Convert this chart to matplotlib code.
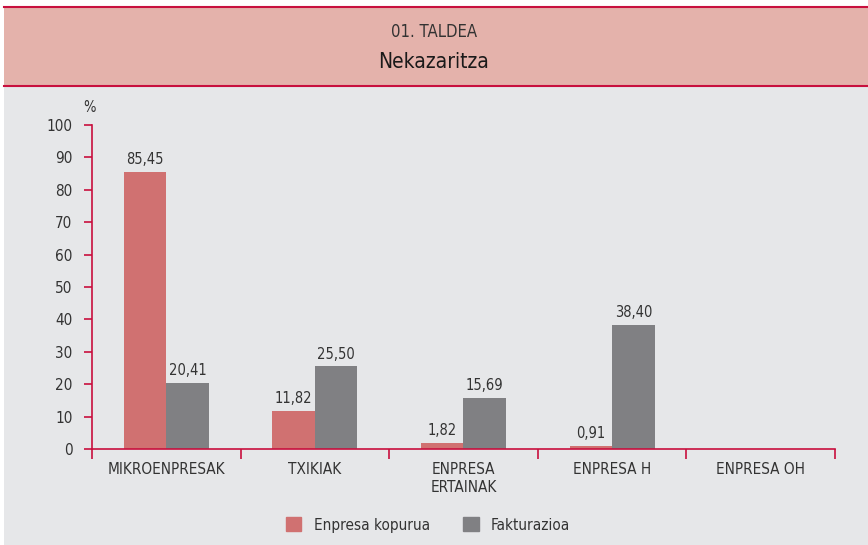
import matplotlib
matplotlib.use('Agg')
import matplotlib.pyplot as plt
from matplotlib.patches import Rectangle
from matplotlib.lines import Line2D
import numpy as np

plt.rcParams['font.family'] = ['DejaVu Sans']
plt.rcParams['font.stretch'] = 'condensed'

kategoriak = ['MIKROENPRESAK', 'TXIKIAK', 'ENPRESA\nERTAINAK', 'ENPRESA H', 'ENPRESA OH']
enpresa_kopurua = [85.45, 11.82, 1.82, 0.91, None]
fakturazioa = [20.41, 25.50, 15.69, 38.40, None]
y_ticks = [0, 10, 20, 30, 40, 50, 60, 70, 80, 90, 100]

gorria = '#d07171'
grisa = '#808083'
lerroa = '#c8103e'
testua = '#333333'

fig = plt.figure(figsize=(8.68, 5.45), dpi=100)
fig.patch.set_facecolor('white')

# atzeko planoa eta goiburua
fig.patches.append(Rectangle((4/868, 0), 1, 1 - 86/545, transform=fig.transFigure,
                             facecolor='#e6e7e9', edgecolor='none', zorder=-2))
fig.patches.append(Rectangle((4/868, 1 - 86/545), 1, (86 - 7)/545, transform=fig.transFigure,
                             facecolor='#e4b2ab', edgecolor='none', zorder=-2))
for yy in [1 - 7/545, 1 - 86/545]:
    fig.lines.append(Line2D([4/868, 1], [yy, yy], transform=fig.transFigure,
                            color=lerroa, lw=1.5, zorder=-1))
fig.text(0.5, 1 - 32/545, '01. TALDEA', ha='center', va='center', fontsize=12,
         color=testua, fontweight='light')
fig.text(0.5, 1 - 62/545, 'Nekazaritza', ha='center', va='center', fontsize=15, color='#1a1a1a')

ax = fig.add_axes([92/868, 1 - 449/545, (835 - 92)/868, (449 - 125)/545])
ax.set_facecolor('none')

x = np.arange(len(kategoriak))
w = 0.286
for i in range(len(kategoriak)):
    if enpresa_kopurua[i] is not None:
        ax.bar(x[i] - w/2, enpresa_kopurua[i], w, color=gorria, zorder=2)
        ax.text(x[i] - w/2, enpresa_kopurua[i] + 1.5, f'{enpresa_kopurua[i]:.2f}'.replace('.', ','),
                ha='center', va='bottom', fontsize=10.5, color=testua)
    if fakturazioa[i] is not None:
        ax.bar(x[i] + w/2, fakturazioa[i], w, color=grisa, zorder=2)
        ax.text(x[i] + w/2, fakturazioa[i] + 1.5, f'{fakturazioa[i]:.2f}'.replace('.', ','),
                ha='center', va='bottom', fontsize=10.5, color=testua)

ax.set_xlim(-0.5, len(kategoriak) - 0.5)
ax.set_ylim(0, 100)
ax.set_yticks(y_ticks)
ax.set_yticklabels([str(t) for t in y_ticks], fontsize=11, color=testua)
ax.set_xticks(np.arange(len(kategoriak) + 1) - 0.5)
ax.set_xticklabels([])
ax.set_xticks(x, minor=True)
ax.set_xticklabels(kategoriak, minor=True, fontsize=11, color=testua, linespacing=1.3, va='top')
ax.tick_params(axis='x', which='minor', length=0, pad=9)
ax.tick_params(axis='x', which='major', length=7, direction='out', color=lerroa, width=1.2)
ax.tick_params(axis='y', length=6, direction='out', color=lerroa, width=1.2, pad=8)

for s in ['top', 'right']:
    ax.spines[s].set_visible(False)
for s in ['left', 'bottom']:
    ax.spines[s].set_color(lerroa)
    ax.spines[s].set_linewidth(1.2)

fig.text(90/868, 1 - 108/545, '%', ha='center', va='center', fontsize=10.5, color=testua)

handles = [Rectangle((0, 0), 1, 1, color=gorria), Rectangle((0, 0), 1, 1, color=grisa)]
fig.legend(handles, ['Enpresa kopurua', 'Fakturazioa'], loc='center',
           bbox_to_anchor=(428/868, 1 - 525/545), ncol=2, frameon=False, fontsize=11,
           labelcolor=testua, handlelength=1.0, handleheight=1.0, columnspacing=2.2,
           handletextpad=0.8)

fig.savefig('out.png', dpi=100)
